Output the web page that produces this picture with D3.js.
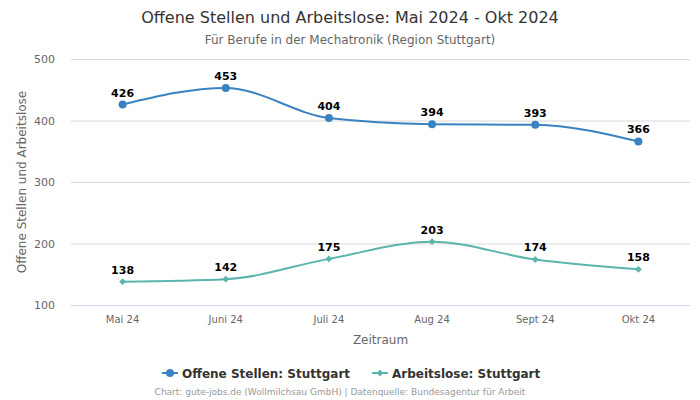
<!DOCTYPE html>
<html><head><meta charset="utf-8">
<script src="https://cdn.jsdelivr.net/npm/d3@7"></script>
<style>body{margin:0;background:#fff;font-family:"DejaVu Sans",sans-serif;}</style>
</head><body>
<svg id="c" width="700" height="400"></svg>
<script>
const categories = ["Mai 24","Juni 24","Juli 24","Aug 24","Sept 24","Okt 24"];
const offeneStellen = [426,453,404,394,393,366];
const arbeitslose = [138,142,175,203,174,158];
const yTicks = [100,200,300,400,500];
const seriesNames = ["Offene Stellen: Stuttgart","Arbeitslose: Stuttgart"];
const colors = ["#3a82c0","#5cb5ad"];

const svg = d3.select("#c");
const pL = 71, pR = 690, pT = 59, pB = 305;
const x = d3.scaleBand().domain(categories).range([pL, pR]);
const y = d3.scaleLinear().domain([100,500]).range([pB, pT]);

svg.append("text").attr("x",350).attr("y",22.5).attr("text-anchor","middle")
  .attr("font-size",16).attr("fill","#333").text("Offene Stellen und Arbeitslose: Mai 2024 - Okt 2024");
svg.append("text").attr("x",350).attr("y",43.5).attr("text-anchor","middle")
  .attr("font-size",12).attr("fill","#666").text("Für Berufe in der Mechatronik (Region Stuttgart)");

const gy = svg.append("g").attr("transform",`translate(${pL},0)`)
  .call(d3.axisLeft(y).tickValues(yTicks).tickSize(-(pR-pL)).tickPadding(16));
gy.select(".domain").remove();
gy.selectAll(".tick line").attr("stroke", d => d===100 ? "#ccd6eb" : "#d8d8d8");
gy.selectAll(".tick text").attr("font-size",11).attr("fill","#666").attr("font-family","DejaVu Sans");

const gx = svg.append("g").attr("transform",`translate(0,${pB})`)
  .call(d3.axisBottom(x).tickSize(0).tickPadding(11));
gx.select(".domain").remove();
gx.selectAll(".tick text").attr("font-size",10).attr("fill","#666").attr("font-family","DejaVu Sans");

svg.append("text").attr("x",(pL+pR)/2).attr("y",344).attr("text-anchor","middle")
  .attr("font-size",12).attr("fill","#666").text("Zeitraum");
svg.append("text").attr("transform",`translate(26,${(pT+pB)/2}) rotate(-90)`)
  .attr("text-anchor","middle").attr("font-size",12).attr("fill","#666").text("Offene Stellen und Arbeitslose");

const cx = c => x(c) + x.bandwidth()/2;
const line = d3.line().x((d,i)=>cx(categories[i])).y(d=>y(d)).curve(d3.curveMonotoneX);

[offeneStellen, arbeitslose].forEach((data, si) => {
  svg.append("path").attr("d", line(data)).attr("fill","none")
    .attr("stroke",colors[si]).attr("stroke-width",2);
  data.forEach((v,i) => {
    const px = cx(categories[i]), py = y(v);
    if (si===0) svg.append("circle").attr("cx",px).attr("cy",py).attr("r",4).attr("fill",colors[si]);
    else svg.append("path").attr("d",d3.symbol(d3.symbolDiamond2, 30)()).attr("transform",`translate(${px},${py})`).attr("fill",colors[si]);
    svg.append("text").attr("x",px).attr("y",py-8).attr("text-anchor","middle")
      .attr("font-size",11).attr("font-weight","bold").attr("fill","#000").text(v);
  });
});

const lx = [162, 372];
seriesNames.forEach((n,i)=>{
  const g = svg.append("g").attr("transform",`translate(${lx[i]},373)`);
  g.append("line").attr("x1",0).attr("x2",16).attr("stroke",colors[i]).attr("stroke-width",2);
  if (i===0) g.append("circle").attr("cx",8).attr("r",4).attr("fill",colors[i]);
  else g.append("path").attr("d",d3.symbol(d3.symbolDiamond2,30)()).attr("transform","translate(8,0)").attr("fill",colors[i]);
  g.append("text").attr("x",20).attr("y",4.5).attr("font-size",12).attr("font-weight","bold").attr("fill","#333").text(n);
});

svg.append("text").attr("x",340).attr("y",395).attr("text-anchor","middle")
  .attr("font-size",9).attr("fill","#999").text("Chart: gute-jobs.de (Wollmilchsau GmbH) | Datenquelle: Bundesagentur für Arbeit");
</script>
</body></html>
